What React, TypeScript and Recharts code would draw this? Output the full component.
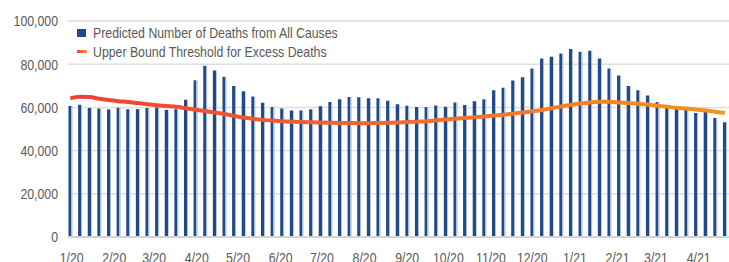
import React from 'react';
import { ComposedChart, Bar, Line, XAxis, YAxis, CartesianGrid, Legend } from 'recharts';

// Weekly predicted deaths (all causes)
const predictedDeaths = [
  60600, 61200, 59700, 59500, 59100, 59800, 59100, 59200, 59700, 60000,
  58900, 59200, 63500, 72600, 79300, 77100, 74200, 69900, 67500, 65100,
  62200, 60200, 59500, 58600, 58600, 59100, 60500, 62500, 63800, 64800,
  64700, 64200, 64200, 63100, 61500, 60800, 60200, 60200, 60900, 60300,
  62300, 61100, 62800, 63800, 67900, 69100, 72500, 74000, 78000, 82600,
  83500, 85000, 87000, 85800, 86200, 82600, 78000, 74800, 69900, 67900,
  65500, 62500, 60200, 59600, 59000, 57400, 57900, 55100, 53100,
];

// Upper bound threshold for excess deaths
const upperBound = [
  64200, 64900, 64800, 64000, 63400, 62900, 62500, 62000, 61500, 61000,
  60600, 60300, 59600, 58900, 58300, 57600, 56900, 56100, 55300, 54700,
  54200, 53900, 53600, 53400, 53200, 53100, 53000, 52900, 52800, 52800,
  52700, 52700, 52800, 52900, 53000, 53200, 53400, 53600, 54000, 54400,
  54800, 55100, 55400, 55800, 56200, 56600, 57100, 57600, 58200, 58800,
  59600, 60400, 61200, 61800, 62300, 62600, 62600, 62300, 62000, 61700,
  61300, 60800, 60300, 59800, 59500, 59000, 58600, 58000, 57400,
];

const firstWeek = '2019-12-31';
const monthTickLabels = [
  '1/20', '2/20', '3/20', '4/20', '5/20', '6/20', '7/20', '8/20',
  '9/20', '10/20', '11/20', '12/20', '1/21', '2/21', '3/21', '4/21',
];
const yTicks = [0, 20000, 40000, 60000, 80000, 100000];

const seriesNames = {
  predicted: 'Predicted Number of Deaths from All Causes',
  upper: 'Upper Bound Threshold for Excess Deaths',
};

const DAY = 86400000;
const t0 = Date.parse(firstWeek + 'T00:00:00Z');
const data = predictedDeaths.map((v, i) => ({ day: i * 7, predicted: v, upper: upperBound[i] }));
const monthTicks = monthTickLabels.map((l) => {
  const [m, y] = l.split('/').map(Number);
  return (Date.UTC(2000 + y, m - 1, 1) - t0) / DAY;
});
const tickLabelOf = (d: number) => {
  const idx = monthTicks.indexOf(d);
  return idx >= 0 ? monthTickLabels[idx] : '';
};

const FONT = "'Liberation Sans', Arial, sans-serif";
const NARROW = 0.82;
const TEXT = '#595959';
const FS = 15;

const XTick = (props: any) => {
  const { x, y, payload } = props;
  return (
    <g transform={`translate(${x},${y})`}>
      <text transform={`scale(${NARROW},1)`} textAnchor="middle" dy="0.71em" fill={TEXT} fontSize={FS} fontFamily={FONT}>
        {tickLabelOf(payload.value)}
      </text>
    </g>
  );
};

const YTick = (props: any) => {
  const { x, y, payload } = props;
  return (
    <g transform={`translate(${x},${y})`}>
      <text transform={`scale(${NARROW},1)`} textAnchor="end" dy="0.355em" fill={TEXT} fontSize={FS} fontFamily={FONT}>
        {Number(payload.value).toLocaleString('en-US')}
      </text>
    </g>
  );
};

const renderLegend = () => (
  <div style={{ fontFamily: FONT, fontSize: FS, color: TEXT, lineHeight: '19px' }}>
    <div style={{ display: 'flex', alignItems: 'center', height: 19 }}>
      <span style={{ display: 'inline-block', width: 9, height: 8, background: '#234a88', marginRight: 7, flex: 'none' }} />
      <span style={{ display: 'inline-block', transform: `scaleX(${NARROW})`, transformOrigin: 'left center', whiteSpace: 'nowrap' }}>
        {seriesNames.predicted}
      </span>
    </div>
    <div style={{ display: 'flex', alignItems: 'center', height: 19 }}>
      <span
        style={{
          display: 'inline-block',
          width: 10,
          height: 3,
          background: 'linear-gradient(to right, #ef4136, #f7941d)',
          marginRight: 6,
          flex: 'none',
        }}
      />
      <span style={{ display: 'inline-block', transform: `scaleX(${NARROW})`, transformOrigin: 'left center', whiteSpace: 'nowrap' }}>
        {seriesNames.upper}
      </span>
    </div>
  </div>
);

export default function App() {
  return (
    <div style={{ position: 'absolute', left: 0, top: 0, width: 729, height: 262, background: '#fff', fontFamily: FONT }}>
      <ComposedChart width={729} height={262} data={data} margin={{ top: 21, right: 0, left: 0, bottom: 0 }}>
        <defs>
          <linearGradient id="barGrad" x1="0" y1="0" x2="1" y2="0">
            <stop offset="0%" stopColor="#234a88" />
            <stop offset="72%" stopColor="#234a88" />
            <stop offset="72%" stopColor="#a9bedc" />
            <stop offset="100%" stopColor="#a9bedc" />
          </linearGradient>
          <linearGradient id="lineGrad" x1="0" y1="0" x2="1" y2="0">
            <stop offset="0%" stopColor="#ef4136" />
            <stop offset="45%" stopColor="#f26430" />
            <stop offset="100%" stopColor="#f7941d" />
          </linearGradient>
        </defs>
        <CartesianGrid vertical={false} stroke="#dedede" strokeWidth={1.5} />
        <XAxis
          dataKey="day"
          type="number"
          domain={[-1.67, 479.1]}
          allowDataOverflow
          ticks={monthTicks}
          interval={0}
          height={25}
          tickLine={false}
          tickSize={0}
          tickMargin={15}
          axisLine={{ stroke: '#d4d4d4', strokeWidth: 2 }}
          tick={<XTick />}
        />
        <YAxis
          domain={[0, 100000]}
          ticks={yTicks}
          width={68}
          axisLine={false}
          tickLine={false}
          tickSize={0}
          tickMargin={10}
          tick={<YTick />}
        />
        <Legend
          content={renderLegend}
          layout="vertical"
          align="center"
          verticalAlign="middle"
          wrapperStyle={{ position: 'absolute', left: 77, top: 23, width: 320, height: 40 }}
        />
        <Bar dataKey="predicted" fill="url(#barGrad)" barSize={4} isAnimationActive={false} />
        <Line
          dataKey="upper"
          type="monotone"
          stroke="url(#lineGrad)"
          strokeWidth={4}
          dot={false}
          activeDot={false}
          isAnimationActive={false}
        />
      </ComposedChart>
    </div>
  );
}
